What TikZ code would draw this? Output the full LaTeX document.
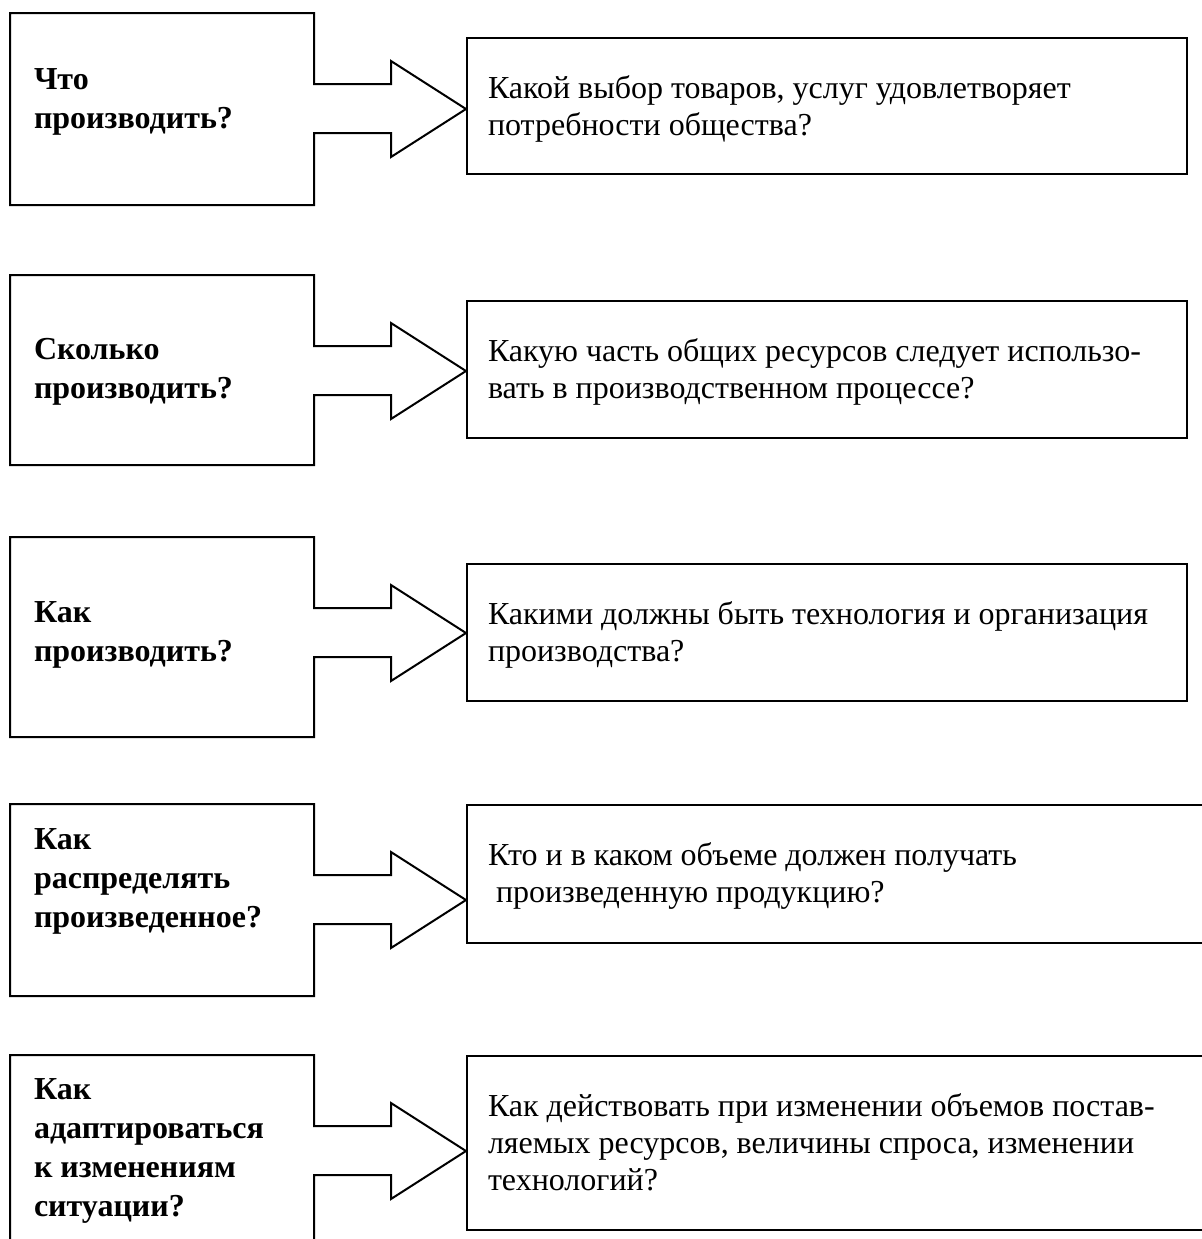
\documentclass[tikz,border=0pt]{standalone}
\usepackage{fontspec}
\setmainfont{Liberation Serif}
\begin{document}
\begin{tikzpicture}
  [x=0.5pt,y=-0.5pt,line width=1pt,
   ask/.style={anchor=north west,inner sep=0pt,align=left,font=\fontsize{16}{19.5}\selectfont\bfseries},
   answerbox/.style={draw,anchor=north west,inner sep=0pt},
   answer/.style={anchor=north west,inner sep=0pt,align=left,font=\fontsize{16}{18.5}\selectfont}]
  \useasboundingbox (0,0) rectangle (1202,1239);
  \clip (0,0) rectangle (1202,1239);

  \foreach \i/\t/\b/\rt/\rb/\re/\lo/\q/\a in {
   1/13/205/37/173/1186/55/{Что\\производить?}/{Какой выбор товаров, услуг удовлетворяет\\потребности общества?},
   2/275/465/300/437/1186/62/{Сколько\\производить?}/{Какую часть общих ресурсов следует использо-\\вать в производственном процессе?},
   3/537/737/563/700/1186/64/{Как\\производить?}/{Какими должны быть технология и организация\\производства?},
   4/804/996/804/942/1210/24/{Как\\распределять\\произведенное?}/{Кто и в каком объеме должен получать\\\hspace*{0.25em}произведенную продукцию?},
   5/1055/1260/1055/1229/1210/23/{Как\\адаптироваться\\к изменениям\\ситуации?}/{Как действовать при изменении объемов постав-\\ляемых ресурсов, величины спроса, изменении\\технологий?}}
  {
    % left box with its arrow
    \draw (10,\t) -- (314,\t) -- (314,\t+71) -- (391,\t+71) -- (391,\t+48)
      -- (466,\t+96) -- (391,\t+144) -- (391,\t+120) -- (314,\t+120)
      -- (314,\b) -- (10,\b) -- cycle;
    \node[ask] (q\i) at (33,\t+\lo) {\q};
    % right box
    \pgfmathsetmacro\bw{(\re-466)*0.5}
    \pgfmathsetmacro\bh{(\rb-\rt)*0.5}
    \node[answerbox,minimum width=\bw pt,minimum height=\bh pt] (b\i) at (466,\rt) {};
    \node[answer] (a\i) at (487,\rt+38) {\a};
  }
\end{tikzpicture}
\end{document}
